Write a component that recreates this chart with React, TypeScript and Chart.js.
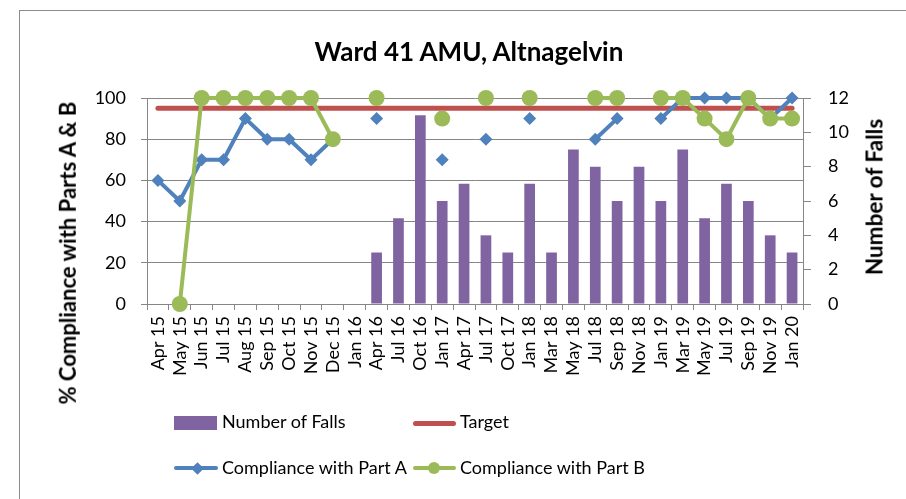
import React, { useEffect, useRef } from "react";
import { Chart, registerables } from "chart.js";

Chart.register(...registerables);

const TITLE = "Ward 41 AMU, Altnagelvin";
const Y_LEFT_TITLE = "% Compliance with Parts A & B";
const Y_RIGHT_TITLE = "Number of Falls";

const categories = [
  "Apr 15", "May 15", "Jun 15", "Jul 15", "Aug 15", "Sep 15", "Oct 15", "Nov 15", "Dec 15", "Jan 16",
  "Apr 16", "Jul 16", "Oct 16", "Jan 17", "Apr 17", "Jul 17", "Oct 17", "Jan 18", "Mar 18", "May 18",
  "Jul 18", "Sep 18", "Nov 18", "Jan 19", "Mar 19", "May 19", "Jul 19", "Sep 19", "Nov 19", "Jan 20",
];

const numberOfFalls = [
  null, null, null, null, null, null, null, null, null, null,
  3, 5, 11, 6, 7, 4, 3, 7, 3, 9,
  8, 6, 8, 6, 9, 5, 7, 6, 4, 3,
];

const complianceA = [
  60, 50, 70, 70, 90, 80, 80, 70, 80, null,
  90, null, null, 70, null, 80, null, 90, null, null,
  80, 90, null, 90, 100, 100, 100, 100, 90, 100,
];

const complianceB = [
  null, 0, 100, 100, 100, 100, 100, 100, 80, null,
  100, null, null, 90, null, 100, null, 100, null, null,
  100, 100, null, 100, 100, 90, 80, 100, 90, 90,
];

const TARGET = 95;

const leftTicks = { min: 0, max: 100, step: 20 };
const rightTicks = { min: 0, max: 12, step: 2 };

const FONT = "Lato, 'Open Sans', sans-serif";
const GRID = "#868686";
const PURPLE = "#8064A2";
const RED = "#C0504D";
const BLUE = "#4F81BD";
const GREEN = "#9BBB59";

export default function App() {
  const canvasRef = useRef<HTMLCanvasElement | null>(null);

  useEffect(() => {
    const canvas = canvasRef.current;
    if (!canvas) return;
    const targetData = categories.map(() => TARGET);
    const chart = new Chart(canvas, {
      type: "bar",
      data: {
        labels: categories,
        datasets: [
          {
            type: "bar",
            label: "Number of Falls",
            data: numberOfFalls as any,
            yAxisID: "y1",
            backgroundColor: PURPLE,
            borderWidth: 0,
            categoryPercentage: 1,
            barPercentage: 0.49,
            order: 4,
          } as any,
          {
            type: "line",
            label: "Target",
            data: targetData,
            yAxisID: "y",
            borderColor: RED,
            backgroundColor: RED,
            borderWidth: 5,
            borderCapStyle: "round",
            pointRadius: 0,
            tension: 0,
            order: 3,
            clip: false,
          } as any,
          {
            type: "line",
            label: "Compliance with Part A",
            data: complianceA as any,
            yAxisID: "y",
            borderColor: BLUE,
            backgroundColor: BLUE,
            borderWidth: 4,
            pointStyle: "rectRot",
            pointRadius: 6.5,
            pointBorderWidth: 0,
            pointBackgroundColor: BLUE,
            spanGaps: false,
            tension: 0,
            order: 2,
            clip: false,
          } as any,
          {
            type: "line",
            label: "Compliance with Part B",
            data: complianceB as any,
            yAxisID: "y",
            borderColor: GREEN,
            backgroundColor: GREEN,
            borderWidth: 4,
            pointStyle: "circle",
            pointRadius: 8,
            pointBorderWidth: 0,
            pointBackgroundColor: GREEN,
            spanGaps: false,
            tension: 0,
            order: 1,
            clip: false,
          } as any,
        ],
      },
      options: {
        responsive: false,
        animation: false,
        events: [],
        layout: { padding: { top: 98, left: 0, right: 0, bottom: 0 } },
        plugins: {
          legend: { display: false },
          title: { display: false },
          tooltip: { enabled: false },
        },
        scales: {
          x: {
            type: "category",
            offset: true,
            grid: { offset: true, drawOnChartArea: false, tickLength: 6, color: GRID },
            border: { color: GRID },
            ticks: {
              minRotation: 90,
              maxRotation: 90,
              autoSkip: false,
              padding: 6,
              color: "#000",
              font: { family: FONT, size: 18 },
            },
            afterFit: (s: any) => {
              s.height = 195;
            },
          },
          y: {
            position: "left",
            min: leftTicks.min,
            max: leftTicks.max,
            grid: { color: GRID, tickLength: 6 },
            border: { color: GRID },
            ticks: {
              stepSize: leftTicks.step,
              padding: 15,
              color: "#000",
              font: { family: FONT, size: 18 },
            },
            afterFit: (s: any) => {
              s.width = 147;
            },
          },
          y1: {
            position: "right",
            min: rightTicks.min,
            max: rightTicks.max,
            grid: { drawOnChartArea: false, color: GRID, tickLength: 8 },
            border: { color: GRID },
            ticks: {
              stepSize: rightTicks.step,
              padding: 17,
              color: "#000",
              font: { family: FONT, size: 18 },
            },
            afterFit: (s: any) => {
              s.width = 103;
            },
          },
        },
      } as any,
    });
    return () => chart.destroy();
  }, []);

  const textBase: React.CSSProperties = {
    position: "absolute",
    fontFamily: FONT,
    color: "#000",
    whiteSpace: "nowrap",
    lineHeight: 1.2,
  };

  return (
    <div
      style={{
        position: "absolute",
        left: 0,
        top: 0,
        width: 906,
        height: 499,
        overflow: "hidden",
        background: "#fff",
      }}
    >
      <div
        style={{
          position: "absolute",
          left: 19,
          top: 10,
          width: 950,
          height: 560,
          borderLeft: "1px solid #8c8c8c",
          borderTop: "1px solid #8c8c8c",
        }}
      />
      <canvas
        ref={canvasRef}
        width={906}
        height={499}
        style={{ position: "absolute", left: 0, top: 0, width: 906, height: 499 }}
      />
      <div
        style={{
          ...textBase,
          left: 469,
          top: 51.5,
          fontSize: 26,
          fontWeight: 700,
          transform: "translate(-50%, -52%)",
        }}
      >
        {TITLE}
      </div>
      <div
        style={{
          ...textBase,
          left: 68,
          top: 253,
          fontSize: 22,
          fontWeight: 700,
          transform: "translate(-50%, -50%) rotate(-90deg)",
        }}
      >
        {Y_LEFT_TITLE}
      </div>
      <div
        style={{
          ...textBase,
          left: 874,
          top: 196.5,
          fontSize: 22.5,
          fontWeight: 700,
          transform: "translate(-50%, -50%) rotate(-90deg)",
        }}
      >
        {Y_RIGHT_TITLE}
      </div>

      {/* Legend row 1 */}
      <div style={{ position: "absolute", left: 174, top: 416, width: 43, height: 14, background: PURPLE }} />
      <div style={{ ...textBase, left: 222, top: 411, fontSize: 18 }}>Number of Falls</div>
      <div
        style={{
          position: "absolute",
          left: 413,
          top: 420.5,
          width: 43,
          height: 5,
          borderRadius: 3,
          background: RED,
        }}
      />
      <div style={{ ...textBase, left: 460, top: 411, fontSize: 18 }}>Target</div>

      {/* Legend row 2 */}
      <div
        style={{
          position: "absolute",
          left: 174,
          top: 466,
          width: 44,
          height: 4,
          borderRadius: 2,
          background: BLUE,
        }}
      />
      <div
        style={{
          position: "absolute",
          left: 197 - 4.5,
          top: 468 - 4.5,
          width: 9,
          height: 9,
          background: BLUE,
          transform: "rotate(45deg)",
        }}
      />
      <div style={{ ...textBase, left: 222, top: 456.7, fontSize: 18 }}>Compliance with Part A</div>
      <div
        style={{
          position: "absolute",
          left: 413,
          top: 466,
          width: 43,
          height: 4,
          borderRadius: 2,
          background: GREEN,
        }}
      />
      <div
        style={{
          position: "absolute",
          left: 434 - 6,
          top: 468 - 6,
          width: 12,
          height: 12,
          borderRadius: 6,
          background: GREEN,
        }}
      />
      <div style={{ ...textBase, left: 460, top: 456.7, fontSize: 18 }}>Compliance with Part B</div>
    </div>
  );
}
